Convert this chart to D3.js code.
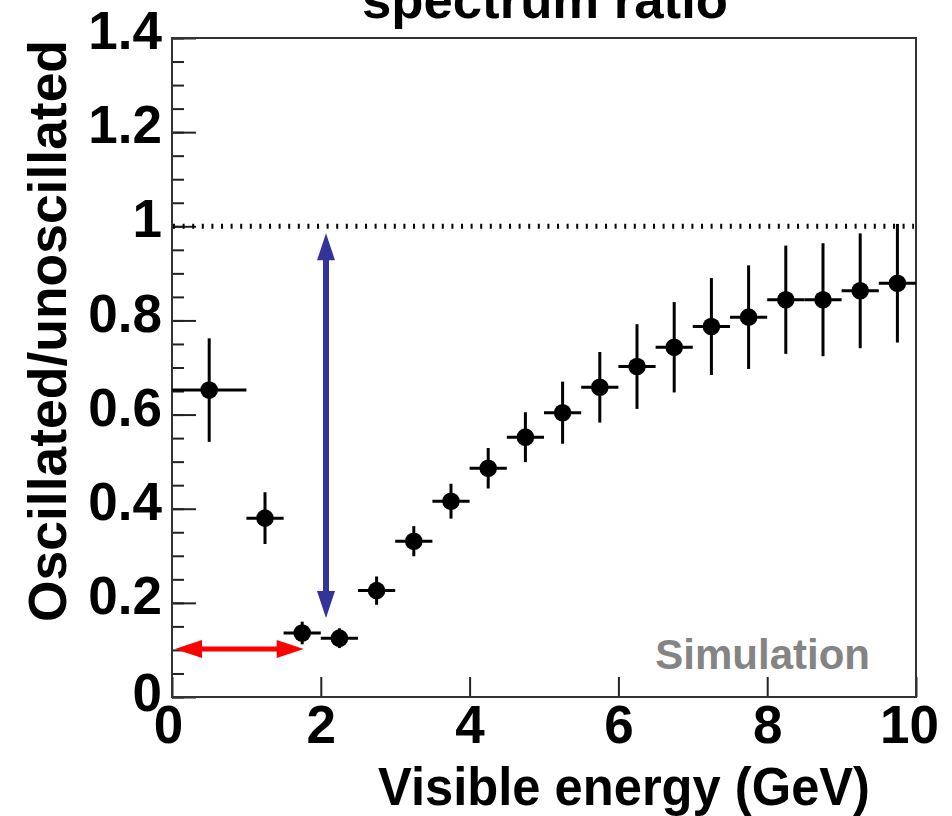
<!DOCTYPE html>
<html>
<head>
<meta charset="utf-8">
<script src="https://cdn.jsdelivr.net/npm/d3@7"></script>
<style>
  html, body { margin: 0; padding: 0; background: #fff; }
  svg text { font-family: "Liberation Sans", Arial, sans-serif; font-weight: bold; }
</style>
</head>
<body>
<div id="viz"></div>
<script>
// bins (GeV) and the oscillated/unoscillated ratio
const binLow  = [0, 1, 1.5, 2, 2.5, 3, 3.5, 4, 4.5, 5, 5.5, 6, 6.5, 7, 7.5, 8, 8.5, 9, 9.5];
const binHigh = [1, 1.5, 2, 2.5, 3, 3.5, 4, 4.5, 5, 5.5, 6, 6.5, 7, 7.5, 8, 8.5, 9, 9.5, 10];
const ratio   = [0.652, 0.380, 0.136, 0.125, 0.226, 0.331, 0.416, 0.486, 0.552, 0.604,
                 0.658, 0.702, 0.743, 0.787, 0.807, 0.844, 0.844, 0.863, 0.879];
const ratioErr = [0.110, 0.055, 0.024, 0.021, 0.030, 0.032, 0.037, 0.043, 0.053, 0.066,
                  0.075, 0.090, 0.096, 0.103, 0.110, 0.115, 0.120, 0.122, 0.126];

const yMajorTicks = [0, 0.2, 0.4, 0.6, 0.8, 1, 1.2, 1.4];
const yTickLabels = ['0', '0.2', '0.4', '0.6', '0.8', '1', '1.2', '1.4'];
const xMajorTicks = [0, 2, 4, 6, 8, 10];
const xTickLabels = ['0', '2', '4', '6', '8', '10'];

// annotation arrows in data units
const blueArrow = { x: 2.07, y0: 0.985, y1: 0.168 };
const redArrow  = { y: 0.102, x0: 0.04, x1: 1.77 };
const refLevel = 1;

const width = 952;
const height = 816;
const margin = { left: 172, right: 36, top: 38, bottom: 119 };

const svg = d3.select('#viz').append('svg')
  .attr('width', width)
  .attr('height', height);

const xScale = d3.scaleLinear().domain([0, 10]).range([margin.left, width - margin.right]);
const yScale = d3.scaleLinear().domain([0, 1.4]).range([height - margin.bottom, margin.top]);

// title (partly cut at the top edge)
svg.append('text')
  .attr('x', 545).attr('y', 18)
  .attr('text-anchor', 'middle')
  .attr('textLength', 366)
  .attr('lengthAdjust', 'spacingAndGlyphs')
  .style('font-size', '52px')
  .text('spectrum ratio');

// minor y ticks
const yMinor = d3.range(0, 1.4001, 0.05);
svg.append('g')
  .attr('transform', `translate(${margin.left},0)`)
  .call(d3.axisLeft(yScale).tickValues(yMinor).tickSize(-12).tickFormat(''))
  .call(g => g.select('.domain').remove())
  .call(g => g.selectAll('line').attr('stroke', '#222').attr('stroke-width', 2));

// major y ticks with labels
svg.append('g')
  .attr('transform', `translate(${margin.left},0)`)
  .call(d3.axisLeft(yScale).tickValues(yMajorTicks).tickSize(-24).tickPadding(10)
    .tickFormat((d, i) => yTickLabels[i]))
  .call(g => g.select('.domain').remove())
  .call(g => g.selectAll('line').attr('stroke', '#222').attr('stroke-width', 2))
  .call(g => g.selectAll('text')
    .attr('dy', d => d === 0 ? '0.25em' : '0.2em')
    .attr('fill', '#000')
    .style('font-size', '53px'));

// x ticks with labels
svg.append('g')
  .attr('transform', `translate(0,${height - margin.bottom})`)
  .call(d3.axisBottom(xScale).tickValues(xMajorTicks).tickSize(-20).tickPadding(8)
    .tickFormat((d, i) => xTickLabels[i]))
  .call(g => g.select('.domain').remove())
  .call(g => g.selectAll('line').attr('stroke', '#222').attr('stroke-width', 2))
  .call(g => g.selectAll('text')
    .attr('fill', '#000')
    .attr('dx', d => d === 0 ? -4 : (d === 10 ? -7 : 0))
    .style('font-size', '53px'));

// frame
svg.append('rect')
  .attr('x', xScale(0)).attr('y', yScale(1.4))
  .attr('width', xScale(10) - xScale(0))
  .attr('height', yScale(0) - yScale(1.4))
  .attr('fill', 'none')
  .attr('stroke', '#333')
  .attr('stroke-width', 2);

// dotted reference line at ratio = 1
svg.append('line')
  .attr('x1', xScale(0) + 1).attr('x2', xScale(10) - 2)
  .attr('y1', yScale(refLevel)).attr('y2', yScale(refLevel))
  .attr('stroke', '#000')
  .attr('stroke-width', 5)
  .attr('stroke-dasharray', '2 7.6');

// data points with error bars
const data = ratio.map((v, i) => ({
  lo: binLow[i], hi: binHigh[i], x: (binLow[i] + binHigh[i]) / 2, y: v, e: ratioErr[i]
}));

const pts = svg.append('g').attr('class', 'dataPoints');

pts.selectAll('line.hbar').data(data).enter().append('line')
  .attr('class', 'hbar')
  .attr('x1', d => xScale(d.lo)).attr('x2', d => xScale(d.hi))
  .attr('y1', d => yScale(d.y)).attr('y2', d => yScale(d.y))
  .attr('stroke', '#000').attr('stroke-width', 3);

pts.selectAll('line.vbar').data(data).enter().append('line')
  .attr('class', 'vbar')
  .attr('x1', d => xScale(d.x)).attr('x2', d => xScale(d.x))
  .attr('y1', d => yScale(d.y + d.e)).attr('y2', d => yScale(d.y - d.e))
  .attr('stroke', '#000').attr('stroke-width', 3);

pts.selectAll('circle').data(data).enter().append('circle')
  .attr('cx', d => xScale(d.x))
  .attr('cy', d => yScale(d.y))
  .attr('r', 8.8)
  .attr('fill', '#000');

// blue vertical double arrow
const blueCol = '#33339a';
const bx = xScale(blueArrow.x);
const bTop = yScale(blueArrow.y0);
const bBot = yScale(blueArrow.y1);
const headL = 27, headW = 9;
svg.append('line')
  .attr('x1', bx).attr('x2', bx)
  .attr('y1', bTop + headL - 2).attr('y2', bBot - headL + 2)
  .attr('stroke', blueCol).attr('stroke-width', 6);
svg.append('path')
  .attr('d', `M${bx},${bTop} L${bx - headW},${bTop + headL} L${bx + headW},${bTop + headL} Z`)
  .attr('fill', blueCol);
svg.append('path')
  .attr('d', `M${bx},${bBot} L${bx - headW},${bBot - headL} L${bx + headW},${bBot - headL} Z`)
  .attr('fill', blueCol);

// red horizontal double arrow
const redCol = '#ff0000';
const ry = yScale(redArrow.y);
const rL = xScale(redArrow.x0);
const rR = xScale(redArrow.x1);
svg.append('line')
  .attr('x1', rL + headL - 2).attr('x2', rR - headL + 2)
  .attr('y1', ry).attr('y2', ry)
  .attr('stroke', redCol).attr('stroke-width', 5);
svg.append('path')
  .attr('d', `M${rL},${ry} L${rL + headL},${ry - headW} L${rL + headL},${ry + headW} Z`)
  .attr('fill', redCol);
svg.append('path')
  .attr('d', `M${rR},${ry} L${rR - headL},${ry - headW} L${rR - headL},${ry + headW} Z`)
  .attr('fill', redCol);

// "Simulation" tag
svg.append('text')
  .attr('x', 870).attr('y', 669)
  .attr('text-anchor', 'end')
  .attr('fill', '#848484')
  .style('font-size', '42px')
  .text('Simulation');

// axis titles
svg.append('text')
  .attr('x', 870).attr('y', 805)
  .attr('text-anchor', 'end')
  .attr('textLength', 492)
  .attr('lengthAdjust', 'spacingAndGlyphs')
  .style('font-size', '53px')
  .text('Visible energy (GeV)');

svg.append('text')
  .attr('transform', 'translate(66,40) rotate(-90)')
  .attr('text-anchor', 'end')
  .attr('textLength', 582)
  .attr('lengthAdjust', 'spacingAndGlyphs')
  .style('font-size', '53px')
  .text('Oscillated/unoscillated');
</script>
</body>
</html>
